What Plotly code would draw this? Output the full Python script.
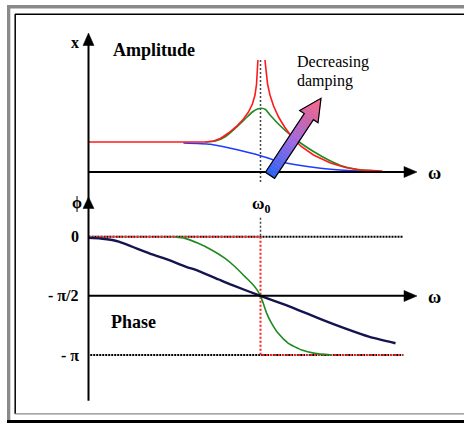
import math
import plotly.graph_objects as go

# ---------------- data (ω in units of ω0, amplitude in units of static amplitude, phase in units of π)
omega_red = [0.0, 0.680, 0.727, 0.767, 0.814, 0.860, 0.901, 0.930, 0.953, 0.968, 0.977, 0.983, 0.985,
             None,
             1.026, 1.032, 1.041, 1.055, 1.076, 1.105, 1.140, 1.174, 1.233, 1.308, 1.407, 1.494, 1.581, 1.709]
amp_red = [1.0, 1.0, 1.033, 1.117, 1.30, 1.517, 1.767, 2.0, 2.267, 2.567, 2.933, 3.333, 3.733,
           None,
           3.733, 3.333, 2.933, 2.567, 2.20, 1.833, 1.50, 1.233, 0.867, 0.567, 0.30, 0.15, 0.067, 0.033]

omega_green = [0.680, 0.738, 0.797, 0.855, 0.913, 0.953, 0.983, 1.006, 1.029, 1.058, 1.116, 1.174,
               1.233, 1.308, 1.390, 1.465, 1.564, 1.686]
amp_green = [1.0, 1.033, 1.183, 1.467, 1.783, 2.0, 2.1, 2.123, 2.083, 1.883, 1.533, 1.233,
             0.967, 0.683, 0.417, 0.217, 0.083, 0.033]

omega_blue = [0.552, 0.709, 0.826, 0.924, 1.0, 1.099, 1.215, 1.349, 1.483, 1.698]
amp_blue = [0.967, 0.923, 0.79, 0.657, 0.543, 0.367, 0.233, 0.123, 0.06, 0.01]

omega_phase_navy = [0.0, 0.07, 0.138, 0.176, 0.37, 0.445, 0.564, 0.638, 0.758, 0.833, 1.0,
                    1.145, 1.22, 1.339, 1.436, 1.491, 1.63, 1.785]
phase_navy = [-0.01, -0.015, -0.028, -0.042, -0.15, -0.185, -0.252, -0.288, -0.362, -0.408, -0.5,
              -0.577, -0.62, -0.69, -0.745, -0.775, -0.845, -0.901]

omega_phase_green = [0.503, 0.561, 0.638, 0.716, 0.794, 0.852, 0.910, 0.949, 0.978, 1.0,
                     1.016, 1.036, 1.065, 1.103, 1.162, 1.240, 1.317, 1.414]
phase_green = [-0.003, -0.014, -0.056, -0.112, -0.183, -0.254, -0.338, -0.394, -0.445, -0.5,
               -0.563, -0.648, -0.732, -0.817, -0.901, -0.958, -0.986, -1.0]

omega_phase_red = [0.0, 1.0, 1.0, 1.83]
phase_red = [0.0, 0.0, -1.0, -1.0]

phase_tick_vals = [0.0, -0.5, -1.0]
phase_tick_text = ["0", "- π/2", "- π"]
omega_end = 1.83
omega_resonance = 1.0

# ---------------- page geometry
W, H = 464, 423
X0_PX, X_SCALE = 88.5, 172.0          # ω = 0 at x px, px per ω0
A0_PX, A_SCALE = 172.0, 30.0          # amplitude baseline px, px per unit
P0_PX, P_SCALE = 236.7, 118.3         # phase zero px, px per π
FONT = "Liberation Serif, Times New Roman, serif"


def px(x):
    return x / W


def py(y):
    return 1 - y / H


fig = go.Figure()

# reference dotted lines
fig.add_trace(go.Scatter(x=[0, omega_end], y=[0, 0], yaxis="y2", mode="lines",
                         line=dict(color="black", width=2, dash="2px,1px"), hoverinfo="skip"))
fig.add_trace(go.Scatter(x=[0.01, omega_end], y=[-1, -1], yaxis="y2", mode="lines",
                         line=dict(color="black", width=2, dash="2px,1px"), hoverinfo="skip"))
fig.add_trace(go.Scatter(x=[omega_resonance, omega_resonance], y=[0.16, 0], yaxis="y2", mode="lines",
                         line=dict(color="#444", width=1.5, dash="2px,2px"), hoverinfo="skip"))
fig.add_trace(go.Scatter(x=[omega_resonance, omega_resonance], y=[3.73, -0.37], yaxis="y", mode="lines",
                         line=dict(color="#444", width=1.5, dash="2px,2px"), hoverinfo="skip"))

# amplitude curves
fig.add_trace(go.Scatter(x=omega_blue, y=amp_blue, mode="lines", yaxis="y",
                         line=dict(color="#1e3cff", width=1.6, shape="spline", smoothing=0.6)))
fig.add_trace(go.Scatter(x=omega_green, y=amp_green, mode="lines", yaxis="y",
                         line=dict(color="#1f8a1f", width=1.6, shape="spline", smoothing=0.6)))
fig.add_trace(go.Scatter(x=omega_red, y=amp_red, mode="lines", yaxis="y", connectgaps=False,
                         line=dict(color="#ff1a1a", width=1.6)))

# phase curves
fig.add_trace(go.Scatter(x=omega_phase_red, y=phase_red, mode="lines", yaxis="y2",
                         line=dict(color="#ff2020", width=2, dash="2px,2px")))
fig.add_trace(go.Scatter(x=omega_phase_green, y=phase_green, mode="lines", yaxis="y2",
                         line=dict(color="#1f8a1f", width=1.6, shape="spline", smoothing=0.5)))
fig.add_trace(go.Scatter(x=omega_phase_navy, y=phase_navy, mode="lines", yaxis="y2",
                         line=dict(color="#141450", width=2.4, shape="spline", smoothing=0.5)))

shapes = []

# frame (inset bevel)
GRAY = "#8a8a8a"
shapes += [
    dict(type="rect", xref="paper", yref="paper", x0=px(450), x1=px(W), y0=py(16), y1=py(412),
         fillcolor="white", line=dict(width=0), layer="above"),
    dict(type="rect", xref="paper", yref="paper", x0=px(7), x1=px(W), y0=py(5), y1=py(8.5),
         fillcolor=GRAY, line=dict(width=0), layer="below"),
    dict(type="rect", xref="paper", yref="paper", x0=px(7), x1=px(10.3), y0=py(5), y1=py(420),
         fillcolor=GRAY, line=dict(width=0), layer="below"),
    dict(type="rect", xref="paper", yref="paper", x0=px(7), x1=px(W), y0=py(420), y1=py(H),
         fillcolor="black", line=dict(width=0), layer="below"),
    dict(type="line", xref="paper", yref="paper", x0=px(15), x1=px(W), y0=py(14.2), y1=py(14.2),
         line=dict(color="black", width=1.5)),
    dict(type="line", xref="paper", yref="paper", x0=px(15.2), x1=px(15.2), y0=py(14), y1=py(414),
         line=dict(color="black", width=1.5)),
    dict(type="line", xref="paper", yref="paper", x0=px(15), x1=px(W), y0=py(413.8), y1=py(413.8),
         line=dict(color=GRAY, width=1.2)),
]

# axes lines
ax_end = (405 - X0_PX) / X_SCALE
shapes += [
    dict(type="line", xref="x", yref="paper", x0=0, x1=0, y0=py(400.7), y1=py(42),
         line=dict(color="black", width=2)),
    dict(type="line", xref="x", yref="y", x0=0, x1=ax_end, y0=0, y1=0,
         line=dict(color="black", width=2)),
    dict(type="line", xref="x", yref="y2", x0=0, x1=ax_end, y0=-0.5, y1=-0.5,
         line=dict(color="black", width=2)),
]


def tri(points):
    p = "M " + " L ".join(f"{px(x):.5f},{py(y):.5f}" for x, y in points) + " Z"
    return dict(type="path", xref="paper", yref="paper", path=p, fillcolor="black",
                line=dict(color="black", width=0.5))


shapes += [
    tri([(X0_PX, 33), (X0_PX - 5.5, 45.5), (X0_PX + 5.5, 45.5)]),
    tri([(X0_PX, 197), (X0_PX - 5.5, 208.5), (X0_PX + 5.5, 208.5)]),
    tri([(417, 172), (404, 166.5), (404, 177.5)]),
    tri([(417, 296), (404, 290.5), (404, 301.5)]),
]

# gradient "Decreasing damping" arrow
Bx, By = 270.0, 175.3
Tx, Ty = 321.0, 98.3
L = math.hypot(Tx - Bx, Ty - By)
ux, uy = (Tx - Bx) / L, (Ty - By) / L
nx, ny = -uy, ux
HB, HH, HL = 5.5, 11.0, 22.0
stops = [(0.0, (40, 100, 245)), (0.45, (160, 105, 225)), (0.75, (205, 100, 165)), (1.0, (255, 105, 140))]


def col(t):
    for (t0, c0), (t1, c1) in zip(stops[:-1], stops[1:]):
        if t <= t1:
            f = (t - t0) / (t1 - t0)
            return "rgb(%d,%d,%d)" % tuple(round(a + (b - a) * f) for a, b in zip(c0, c1))
    return "rgb(%d,%d,%d)" % stops[-1][1]


def width_at(s, head):
    if not head:
        return HB
    return HH * (L - s) / HL


def ptat(s, w):
    return (Bx + ux * s + nx * w, By + uy * s + ny * w)


N = 28
hb = L - HL
cuts = sorted(set([round(L * i / N, 4) for i in range(N + 1)] + [hb]))
for s0, s1 in zip(cuts[:-1], cuts[1:]):
    head = s0 >= hb - 1e-6
    w0, w1 = width_at(s0, head), width_at(s1, head)
    pts = [ptat(s0, -w0), ptat(s1, -w1), ptat(s1, w1), ptat(s0, w0)]
    p = "M " + " L ".join(f"{px(x):.5f},{py(y):.5f}" for x, y in pts) + " Z"
    c = col(((s0 + s1) / 2) / L)
    shapes.append(dict(type="path", xref="paper", yref="paper", path=p, fillcolor=c,
                       line=dict(color=c, width=0.6)))
outline = [ptat(0, -HB), ptat(hb, -HB), ptat(hb, -HH), ptat(L, 0), ptat(hb, HH), ptat(hb, HB), ptat(0, HB)]
shapes.append(dict(type="path", xref="paper", yref="paper",
                   path="M " + " L ".join(f"{px(x):.5f},{py(y):.5f}" for x, y in outline) + " Z",
                   line=dict(color="black", width=1.2)))

annotations = []


def txt(text, x, y, size, bold=True, xanchor="left", yanchor="middle", xref="paper", yref="paper"):
    t = f"<b>{text}</b>" if bold else text
    annotations.append(dict(text=t, x=x, y=y, xref=xref, yref=yref, showarrow=False,
                            xanchor=xanchor, yanchor=yanchor,
                            font=dict(family=FONT, size=size, color="black")))


txt("Amplitude", px(111), py(50), 18)
txt("Phase", px(109), py(322), 18)
txt("Decreasing", px(295), py(62), 16, bold=False)
txt("damping", px(295), py(81), 16, bold=False)
txt("x", px(75), py(42), 16, xanchor="center")
txt("ϕ", px(76.5), py(203), 16, xanchor="center")
txt("ω", px(434), py(172.5), 18, xanchor="center")
txt("ω", px(434), py(296.5), 18, xanchor="center")
txt("ω<sub>0</sub>", omega_resonance, py(205), 17, xanchor="center", xref="x")
for v, t in zip(phase_tick_vals, phase_tick_text):
    txt(t, px(81), v, 16, xanchor="right", yref="y2")

fig.update_layout(
    width=W, height=H, autosize=False,
    margin=dict(l=0, r=0, t=0, b=0),
    paper_bgcolor="white", plot_bgcolor="white",
    showlegend=False,
    xaxis=dict(range=[-X0_PX / X_SCALE, (W - X0_PX) / X_SCALE], visible=False, domain=[0, 1]),
    yaxis=dict(range=[(A0_PX - H) / A_SCALE, A0_PX / A_SCALE], visible=False, domain=[0, 1]),
    yaxis2=dict(range=[-(H - P0_PX) / P_SCALE, P0_PX / P_SCALE], visible=False,
                overlaying="y", domain=[0, 1]),
    shapes=shapes,
    annotations=annotations,
)

fig.write_html("out.html", config=dict(displayModeBar=False),
               post_script="document.body.style.margin='0';document.body.style.overflow='hidden';")
